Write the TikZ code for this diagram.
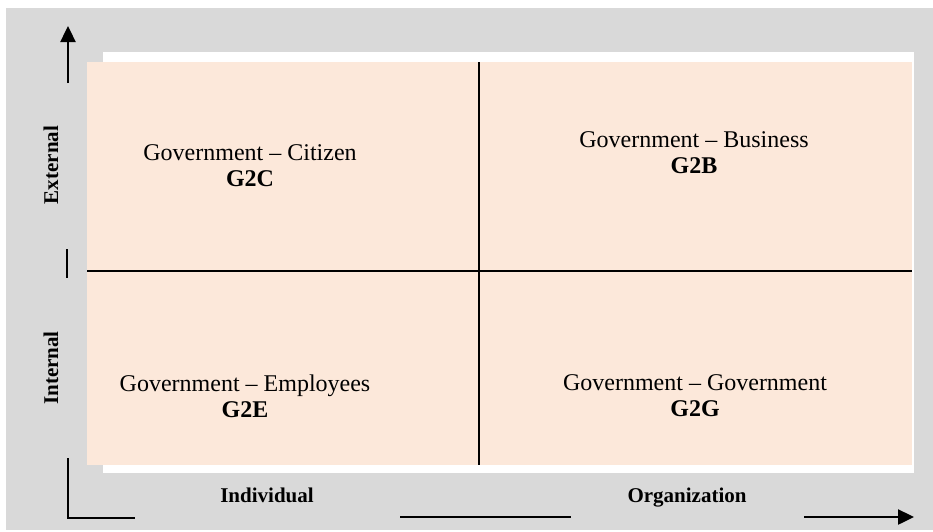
\documentclass[tikz,border=0pt]{standalone}
\usepackage{fontspec}
\setmainfont{Liberation Serif}
\usetikzlibrary{arrows.meta}
\definecolor{panelgrey}{RGB}{217,217,217}
\definecolor{peach}{RGB}{252,232,218}

\begin{document}
\begin{tikzpicture}[x=1pt,y=-1pt,
	quad/.style={align=center,font=\fontsize{24}{26}\selectfont},
	axlabel/.style={font=\fontsize{21}{24}\selectfont\bfseries},
	axis/.style={line width=2.4pt},
	divider/.style={line width=2pt},
	tip/.style={-{Triangle[length=16pt,width=15pt]}}]
	\useasboundingbox (0,0) rectangle (933,531);
	\fill[panelgrey] (6,8) rectangle (933,530);
	\fill[white] (103,52) rectangle (914,473);
	\fill[peach] (87,62) rectangle (912,465);
	\coordinate (midtop) at (479,62);
	\coordinate (midbot) at (479,465);
	\coordinate (midleft) at (87,271);
	\coordinate (midright) at (912,271);
	\draw[divider] (midtop) -- (midbot);
	\draw[divider] (midleft) -- (midright);
	\node[quad] (g2c) at (250,166) {Government -- Citizen\\\textbf{G2C}};
	\node[quad] (g2b) at (694,153) {Government -- Business\\\textbf{G2B}};
	\node[quad] (g2e) at (245,396) {Government -- Employees\\\textbf{G2E}};
	\node[quad] (g2g) at (695,396) {Government -- Government\\\textbf{G2G}};
	\node[axlabel,rotate=90] (external) at (51,165) {External};
	\node[axlabel,rotate=90] (internal) at (51,368) {Internal};
	\node[axlabel,anchor=base] (individual) at (267,502) {Individual};
	\node[axlabel,anchor=base] (organization) at (687,502) {Organization};
	\coordinate (ytail) at (68,83);
	\coordinate (ytip) at (68,26);
	\coordinate (tickup) at (67,249);
	\coordinate (tickdown) at (67,278);
	\coordinate (cornertop) at (68,458);
	\coordinate (corner) at (68,518);
	\coordinate (cornerright) at (135,518);
	\coordinate (xmidleft) at (400,517);
	\coordinate (xmidright) at (571,517);
	\coordinate (xtail) at (804,517);
	\coordinate (xtip) at (914,517);
	\draw[axis,tip] (ytail) -- (ytip);
	\draw[axis] (tickup) -- (tickdown);
	\draw[axis] (cornertop) -- (corner) -- (cornerright);
	\draw[axis] (xmidleft) -- (xmidright);
	\draw[axis,tip] (xtail) -- (xtip);
\end{tikzpicture}
\end{document}
